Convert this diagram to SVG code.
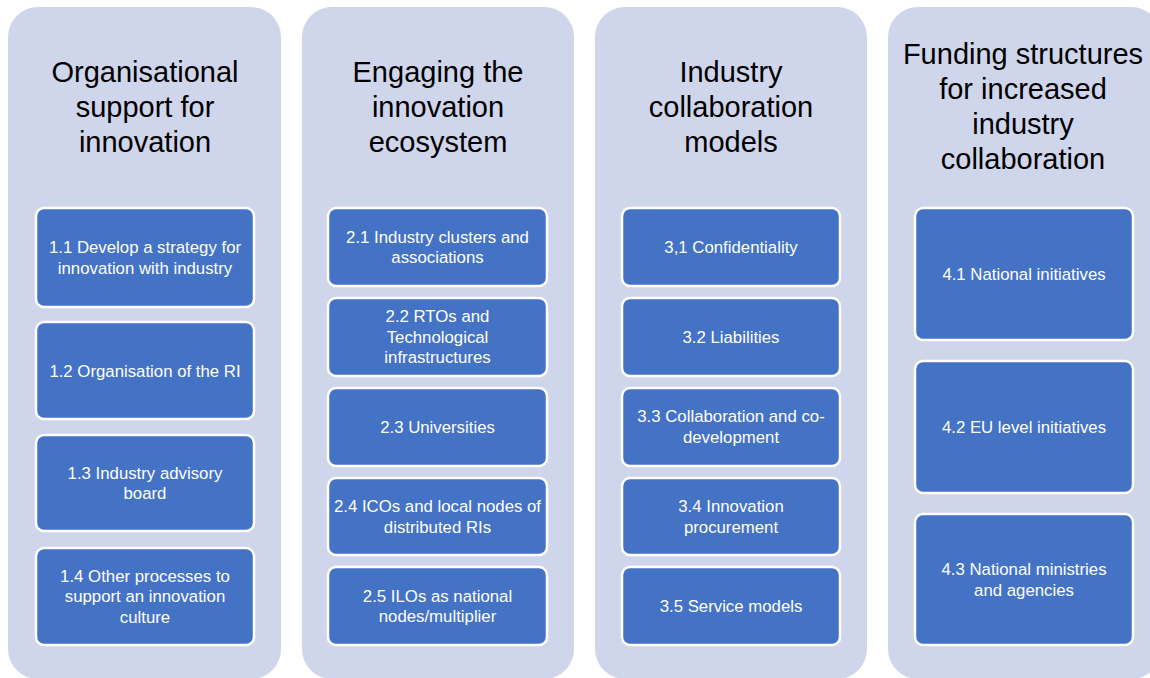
<svg xmlns="http://www.w3.org/2000/svg" width="1150" height="678" viewBox="0 0 1150 678">
  <style>
    .lane { fill: #CFD5EA; }
    .title { font-family: "Liberation Sans", Arial, sans-serif; font-size: 29px; fill: #000; text-anchor: middle; }
    .box { fill: #4472C4; stroke: #FFFFFF; stroke-width: 2.5; }
    .label { font-family: "Liberation Sans", Arial, sans-serif; font-size: 16.8px; fill: #FFFFFF; text-anchor: middle; }
  </style>
  <rect width="1150" height="678" fill="#FFFFFF"/>

  <!-- Column 1 -->
  <g id="col1">
    <rect class="lane" x="8" y="7" width="273" height="672" rx="30"/>
    <text class="title"><tspan x="145" y="82">Organisational</tspan><tspan x="145" y="117">support for</tspan><tspan x="145" y="152">innovation</tspan></text>
  </g>
  <g id="n1-1">
    <rect class="box" x="36" y="208" width="218" height="99" rx="8"/>
    <text class="label"><tspan x="145" y="253">1.1 Develop a strategy for</tspan><tspan x="145" y="273.5">innovation with industry</tspan></text>
  </g>
  <g id="n1-2">
    <rect class="box" x="36" y="322" width="218" height="97" rx="8"/>
    <text class="label" x="145" y="376.5">1.2 Organisation of the RI</text>
  </g>
  <g id="n1-3">
    <rect class="box" x="36" y="435" width="218" height="96" rx="8"/>
    <text class="label"><tspan x="145" y="478.5">1.3 Industry advisory</tspan><tspan x="145" y="499">board</tspan></text>
  </g>
  <g id="n1-4">
    <rect class="box" x="36" y="548" width="218" height="97" rx="8"/>
    <text class="label"><tspan x="145" y="581.5">1.4 Other processes to</tspan><tspan x="145" y="602">support an innovation</tspan><tspan x="145" y="622.5">culture</tspan></text>
  </g>

  <!-- Column 2 -->
  <g id="col2">
    <rect class="lane" x="302" y="7" width="272" height="672" rx="30"/>
    <text class="title"><tspan x="438" y="82">Engaging the</tspan><tspan x="438" y="117">innovation</tspan><tspan x="438" y="152">ecosystem</tspan></text>
  </g>
  <g id="n2-1">
    <rect class="box" x="328" y="208" width="219" height="78" rx="8"/>
    <text class="label"><tspan x="437.5" y="242.5">2.1 Industry clusters and</tspan><tspan x="437.5" y="263">associations</tspan></text>
  </g>
  <g id="n2-2">
    <rect class="box" x="328" y="298" width="219" height="78" rx="8"/>
    <text class="label"><tspan x="437.5" y="322">2.2 RTOs and</tspan><tspan x="437.5" y="342.5">Technological</tspan><tspan x="437.5" y="363">infrastructures</tspan></text>
  </g>
  <g id="n2-3">
    <rect class="box" x="328" y="388" width="219" height="78" rx="8"/>
    <text class="label" x="437.5" y="432.5">2.3 Universities</text>
  </g>
  <g id="n2-4">
    <rect class="box" x="328" y="478" width="219" height="77" rx="8"/>
    <text class="label"><tspan x="437.5" y="512">2.4 ICOs and local nodes of</tspan><tspan x="437.5" y="532.5">distributed RIs</tspan></text>
  </g>
  <g id="n2-5">
    <rect class="box" x="328" y="567" width="219" height="78" rx="8"/>
    <text class="label"><tspan x="437.5" y="601.5">2.5 ILOs as national</tspan><tspan x="437.5" y="622">nodes/multiplier</tspan></text>
  </g>

  <!-- Column 3 -->
  <g id="col3">
    <rect class="lane" x="595" y="7" width="272" height="672" rx="30"/>
    <text class="title"><tspan x="731" y="82">Industry</tspan><tspan x="731" y="117">collaboration</tspan><tspan x="731" y="152">models</tspan></text>
  </g>
  <g id="n3-1">
    <rect class="box" x="622" y="208" width="218" height="78" rx="8"/>
    <text class="label" x="731" y="252.5">3,1 Confidentiality</text>
  </g>
  <g id="n3-2">
    <rect class="box" x="622" y="298" width="218" height="78" rx="8"/>
    <text class="label" x="731" y="342.5">3.2 Liabilities</text>
  </g>
  <g id="n3-3">
    <rect class="box" x="622" y="388" width="218" height="78" rx="8"/>
    <text class="label"><tspan x="731" y="422">3.3 Collaboration and co-</tspan><tspan x="731" y="442.5">development</tspan></text>
  </g>
  <g id="n3-4">
    <rect class="box" x="622" y="478" width="218" height="77" rx="8"/>
    <text class="label"><tspan x="731" y="512">3.4 Innovation</tspan><tspan x="731" y="532.5">procurement</tspan></text>
  </g>
  <g id="n3-5">
    <rect class="box" x="622" y="567" width="218" height="78" rx="8"/>
    <text class="label" x="731" y="611.5">3.5 Service models</text>
  </g>

  <!-- Column 4 -->
  <g id="col4">
    <rect class="lane" x="888" y="7" width="273" height="672" rx="30"/>
    <text class="title"><tspan x="1023" y="64">Funding structures</tspan><tspan x="1023" y="99">for increased</tspan><tspan x="1023" y="134">industry</tspan><tspan x="1023" y="169">collaboration</tspan></text>
  </g>
  <g id="n4-1">
    <rect class="box" x="915" y="208" width="218" height="132" rx="8"/>
    <text class="label" x="1024" y="279.5">4.1 National initiatives</text>
  </g>
  <g id="n4-2">
    <rect class="box" x="915" y="361" width="218" height="132" rx="8"/>
    <text class="label" x="1024" y="432.5">4.2 EU level initiatives</text>
  </g>
  <g id="n4-3">
    <rect class="box" x="915" y="514" width="218" height="131" rx="8"/>
    <text class="label"><tspan x="1024" y="575">4.3 National ministries</tspan><tspan x="1024" y="595.5">and agencies</tspan></text>
  </g>
</svg>
